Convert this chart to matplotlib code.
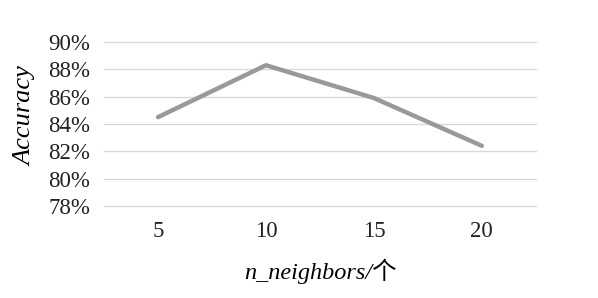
import numpy as np
import matplotlib
matplotlib.use('Agg')
import matplotlib.pyplot as plt
import matplotlib.ticker as mticker

plt.rcParams['font.family'] = ['Liberation Serif', 'Noto Sans CJK SC']

# Data
categories = ['5', '10', '15', '20']
accuracy = [84.5, 88.3, 85.9, 82.4]
y_ticks = [78, 80, 82, 84, 86, 88, 90]

fig = plt.figure(figsize=(5.98, 2.98), dpi=100)
ax = fig.add_axes([0.174, 0.309, 0.722, 0.550])

x = np.arange(len(categories))
ax.plot(x, accuracy, color='#999999', linewidth=3.2, solid_capstyle='round', zorder=3)

ax.set_xlim(-0.5, len(categories) - 0.5)
ax.set_ylim(78, 90)
ax.set_yticks(y_ticks)
ax.yaxis.set_major_formatter(mticker.FuncFormatter(lambda v, p: f'{v:.0f}%'))
ax.set_xticks(x)
ax.set_xticklabels(categories)

ax.grid(axis='y', color='#d9d9d9', linewidth=1.0)
for gl in ax.get_ygridlines():
    gl.set_clip_on(False)
ax.set_axisbelow(True)
for s in ax.spines.values():
    s.set_visible(False)
ax.tick_params(axis='both', length=0, labelsize=16.5, colors='#222222')
ax.tick_params(axis='x', pad=11)
ax.tick_params(axis='y', pad=10)

ax.set_ylabel('Accuracy', fontsize=19, style='italic', va='center')
ax.yaxis.set_label_coords(-0.183, 0.55)
ax.set_xlabel('n_neighbors/个', fontsize=17.5, style='italic', labelpad=12)

fig.savefig('out.png', dpi=100)
